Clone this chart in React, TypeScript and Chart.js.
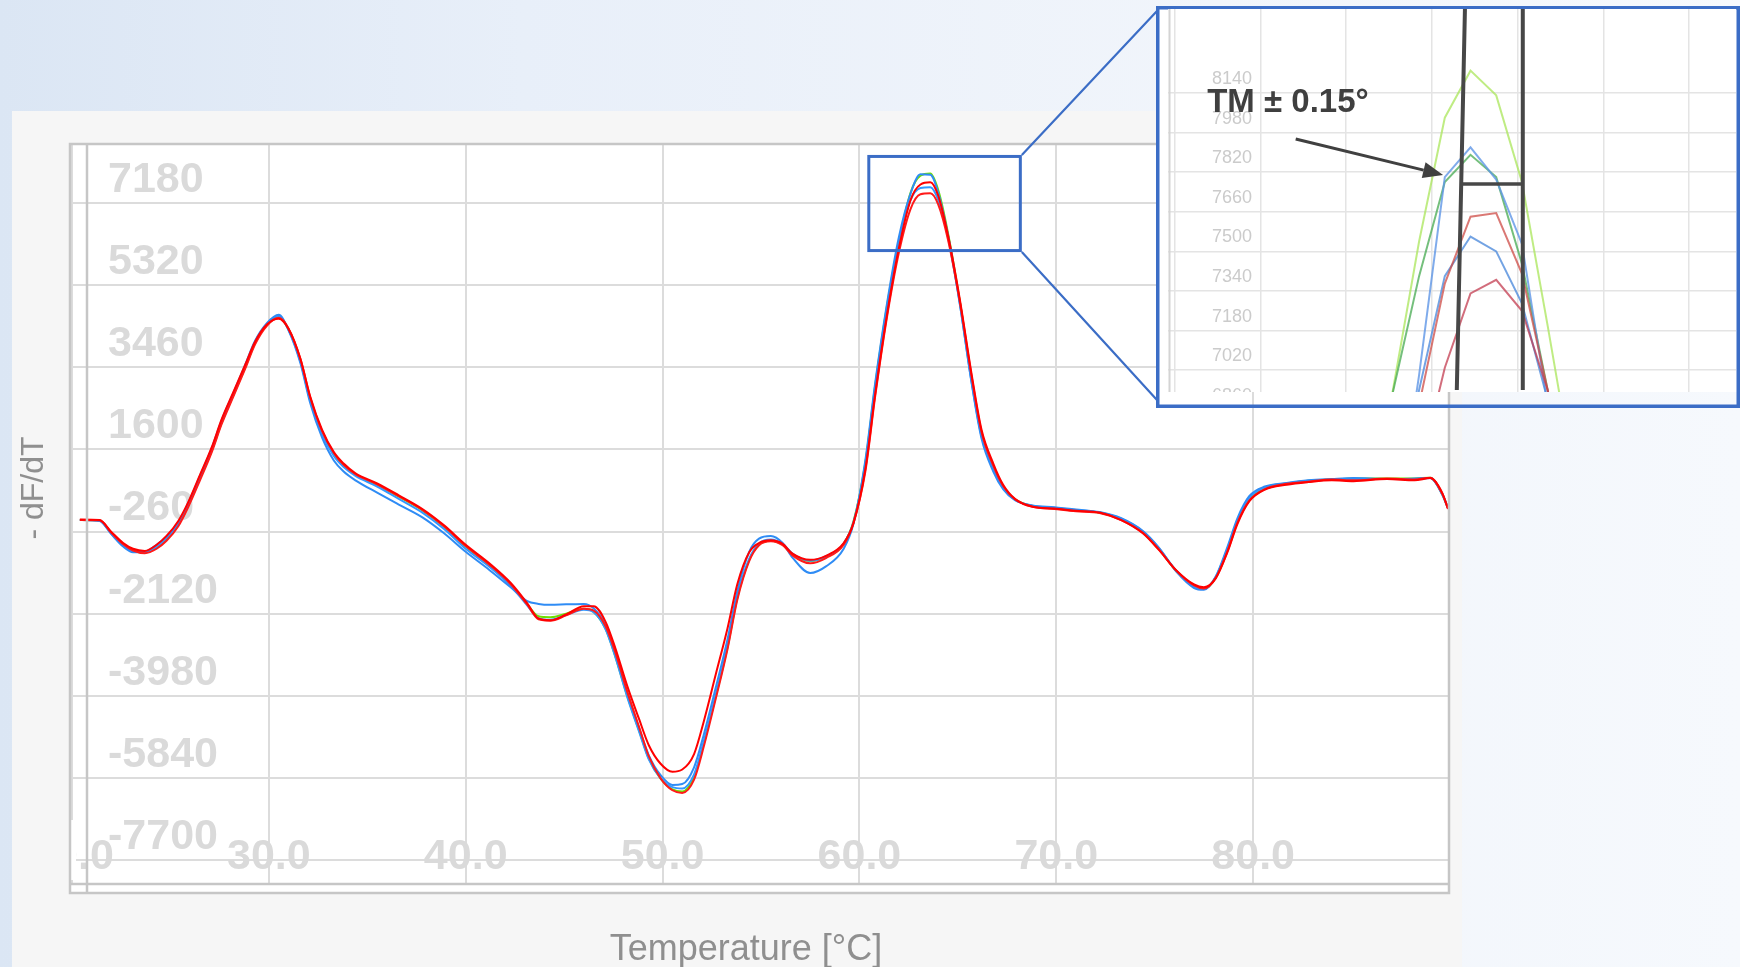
import React, { useEffect, useRef } from "react";
import { Chart, registerables } from "chart.js";

Chart.register(...registerables);

// ---------- main chart data ----------
const temps = [
  20.4, 21.4, 22.0, 22.6, 23.1, 23.7, 24.3, 24.8, 25.4, 25.9,
  26.5, 27.1, 27.6, 28.2, 28.8, 29.3, 29.9, 30.5, 31.0, 31.6,
  32.1, 32.7, 33.3, 33.8, 34.4, 35.5, 36.6, 37.8, 38.9, 40.0,
  41.2, 42.3, 43.1, 43.7, 44.3, 45.1, 46.0, 46.5, 47.1, 47.6,
  48.2, 48.8, 49.3, 49.9, 50.5, 51.0, 51.6, 52.1, 52.7, 53.3,
  53.8, 54.4, 54.9, 55.5, 56.1, 56.6, 57.5, 58.3, 59.2, 59.7,
  60.3, 60.8, 61.4, 62.0, 62.6, 63.1, 63.6, 64.0, 64.5, 65.1,
  65.7, 66.2, 66.8, 67.3, 67.9, 68.8, 69.9, 71.0, 72.2, 73.3,
  74.4, 75.2, 76.1, 77.0, 77.5, 78.1, 78.7, 79.2, 79.8, 80.6,
  81.7, 82.8, 84.0, 85.1, 86.8, 88.2, 89.0, 89.6, 89.9,
];

const greenA = [
  0, -10, -300, -560, -690, -740, -620, -440, -110, 320,
  940, 1570, 2200, 2830, 3460, 4010, 4420, 4600, 4320, 3620,
  2740, 1990, 1490, 1230, 1030, 800, 530, 220, -150, -600,
  -1020, -1470, -1890, -2180, -2200, -2120, -2010, -2080, -2460, -3090,
  -3980, -4760, -5400, -5860, -6100, -6150, -5820, -5050, -4000, -2880,
  -1760, -900, -560, -470, -560, -780, -930, -830, -540, -30,
  1300, 3050, 4850, 6300, 7420, 7800, 7850, 7480, 6500, 4950,
  3180, 1950, 1200, 760, 470, 320, 270, 220, 170, 20,
  -270, -640, -1160, -1500, -1560, -1300, -650, -20, 480, 730,
  820, 890, 920, 940, 940, 940, 960, 590, 270,
];

const blueA = [
  0, -20, -320, -600, -730, -720, -560, -380, -60, 380,
  1000, 1630, 2260, 2880, 3520, 4060, 4460, 4650, 4300, 3560,
  2650, 1870, 1350, 1100, 900, 620, 350, 60, -300, -720,
  -1130, -1530, -1830, -1900, -1920, -1910, -1900, -2000, -2380, -3020,
  -3900, -4700, -5330, -5780, -6000, -5980, -5600, -4850, -3800, -2700,
  -1600, -720, -420, -360, -520, -850, -1200, -1050, -650, -80,
  1350, 3100, 4900, 6400, 7400, 7830, 7820, 7420, 6450, 4900,
  3100, 1850, 1100, 700, 450, 330, 290, 240, 180, 40,
  -250, -620, -1170, -1540, -1580, -1280, -600, 40, 540, 760,
  840, 900, 930, 950, 930, 940, 950, 600, 280,
];

const blueB = [
  0, -15, -310, -580, -710, -730, -600, -420, -90, 340,
  960, 1590, 2220, 2850, 3480, 4030, 4440, 4620, 4310, 3600,
  2710, 1950, 1450, 1200, 1000, 760, 480, 170, -200, -650,
  -1060, -1500, -1920, -2230, -2260, -2150, -2030, -2090, -2470, -3100,
  -4000, -4780, -5420, -5850, -6050, -6080, -5760, -5000, -3960, -2850,
  -1730, -880, -530, -440, -540, -760, -920, -820, -530, -40,
  1250, 2980, 4780, 6250, 7250, 7520, 7540, 7250, 6400, 4900,
  3120, 1900, 1180, 740, 460, 320, 280, 230, 170, 30,
  -260, -630, -1150, -1510, -1560, -1290, -640, 0, 500, 740,
  830, 890, 910, 930, 930, 930, 950, 580, 260,
];

const redA = [
  10, 0, -270, -520, -650, -700, -560, -360, -20, 400,
  1020, 1650, 2280, 2900, 3520, 4040, 4430, 4560, 4330, 3660,
  2800, 2050, 1540, 1280, 1060, 830, 560, 250, -120, -560,
  -980, -1430, -1870, -2230, -2270, -2140, -1950, -1950, -2300, -2900,
  -3750, -4500, -5100, -5520, -5700, -5650, -5300, -4550, -3500, -2450,
  -1450, -730, -520, -460, -540, -760, -900, -810, -520, -70,
  1150, 2850, 4650, 6150, 7250, 7600, 7650, 7350, 6450, 5000,
  3300, 2050, 1280, 800, 480, 300, 260, 210, 170, 0,
  -300, -670, -1140, -1460, -1520, -1320, -720, -90, 420, 690,
  800, 860, 900, 880, 930, 900, 950, 620, 250,
];

const redB = [
  0, -5, -290, -550, -690, -750, -650, -470, -140, 290,
  900, 1540, 2170, 2800, 3430, 3980, 4400, 4580, 4340, 3650,
  2780, 2020, 1520, 1250, 1040, 810, 540, 230, -140, -590,
  -1010, -1460, -1900, -2250, -2280, -2160, -2010, -2050, -2400, -3000,
  -3880, -4680, -5350, -5850, -6120, -6180, -5880, -5120, -4050, -2920,
  -1800, -930, -570, -480, -570, -800, -980, -860, -560, -60,
  1100, 2800, 4600, 6050, 7050, 7380, 7400, 7150, 6350, 4950,
  3250, 2000, 1230, 770, 470, 300, 250, 200, 160, 0,
  -290, -660, -1150, -1480, -1550, -1310, -700, -60, 440, 700,
  820, 870, 920, 900, 940, 920, 960, 600, 260,
];

const xTickValues = [20, 30, 40, 50, 60, 70, 80];
const yTickValues = [7180, 5320, 3460, 1600, -260, -2120, -3980, -5840, -7700];
const xTitle = "Temperature [°C]";
const yTitle = "- dF/dT";

// region of the main chart that is magnified (data units)
const zoomBoxT = [60.4, 68.25];
const zoomBoxV = [6070, 8270];

// ---------- inset (magnified peak) data ----------
const insetTemps = [62.25, 62.55, 62.85, 63.15, 63.45, 63.75, 64.05, 64.35, 64.65];
const insetGreenLight = [6400, 6950, 7540, 8040, 8230, 8130, 7780, 7200, 6600];
const insetBlueA = [5800, 6300, 7000, 7800, 7920, 7790, 7530, 6880, 6300];
const insetGreenDark = [6500, 6940, 7400, 7780, 7890, 7800, 7450, 6940, 6400];
const insetRedA = [5800, 6300, 6880, 7370, 7640, 7655, 7410, 6940, 6400];
const insetBlueB = [5900, 6400, 6940, 7400, 7560, 7500, 7290, 6900, 6400];
const insetRedB = [5500, 6000, 6600, 7030, 7330, 7385, 7260, 6940, 6500];
const insetYTicks = [8140, 7980, 7820, 7660, 7500, 7340, 7180, 7020, 6860];
const insetXTicks = [60, 61, 62, 63, 64, 65, 66];

// TM ± 0.15° annotation (inset data units)
const tmLabel = "TM ± 0.15°";
const tmLeftTop = 63.385;
const tmLeftBottom = 63.29;
const tmRight = 64.06;
const tmBarValue = 7772;
const arrowFrom = [61.41, 7954];
const arrowTo = [63.13, 7809];
const labelAt = [61.32, 8100];

const W = 1740;
const H = 967;
const INSET_L = 1168;
const INSET_T = 9;
const INSET_W = 568;
const INSET_H = 383;

const PANEL = "#f6f6f6";
const GRID = "#dcdcdc";
const FRAME = "#c6c6c6";
const BLUE_BOX = "#3b6dc6";
const tickFont = { family: '"Liberation Sans", Arial, sans-serif', size: 43, weight: "bold" as const };

function pts(xs: number[], ys: number[]) {
  return xs.map((x, i) => ({ x, y: ys[i] }));
}

function zeroPad(s: any) {
  s.paddingTop = 0;
  s.paddingBottom = 0;
  s.paddingLeft = 0;
  s.paddingRight = 0;
}

const mainDecor = {
  id: "mainDecor",
  beforeDraw(chart: any) {
    const ctx = chart.ctx;
    ctx.save();
    ctx.fillStyle = PANEL;
    ctx.fillRect(12, 111, 1450, H - 111);
    ctx.fillStyle = "#ffffff";
    ctx.fillRect(70, 144, 1379, 749);
    ctx.restore();
  },
  afterDraw(chart: any) {
    const ctx = chart.ctx;
    const xs = chart.scales.x;
    const ys = chart.scales.y;
    ctx.save();
    // hide tick label overflow at the left edge of the frame
    ctx.fillStyle = PANEL;
    ctx.fillRect(12, 800, 57, 100);
    ctx.fillStyle = "#ffffff";
    ctx.fillRect(71, 820, 5, 60);
    // frame
    ctx.strokeStyle = FRAME;
    ctx.lineWidth = 2.5;
    ctx.strokeRect(70, 144, 1379, 749);
    ctx.beginPath();
    ctx.moveTo(87, 144);
    ctx.lineTo(87, 893);
    ctx.moveTo(70, 884);
    ctx.lineTo(1449, 884);
    ctx.stroke();
    // axis titles
    ctx.fillStyle = "#8f8f8f";
    ctx.font = '36px "Liberation Sans", Arial, sans-serif';
    ctx.textAlign = "center";
    ctx.textBaseline = "middle";
    ctx.fillText(xTitle, 746, 950);
    ctx.save();
    ctx.translate(34, 488);
    ctx.rotate(-Math.PI / 2);
    ctx.font = '32px "Liberation Sans", Arial, sans-serif';
    ctx.fillText(yTitle, 0, 0);
    ctx.restore();
    // area behind inset
    ctx.fillStyle = "#ffffff";
    ctx.fillRect(1158, 9, 580, 383);
    // zoom box
    const bx0 = xs.getPixelForValue(zoomBoxT[0]);
    const bx1 = xs.getPixelForValue(zoomBoxT[1]);
    const by0 = ys.getPixelForValue(zoomBoxV[1]);
    const by1 = ys.getPixelForValue(zoomBoxV[0]);
    ctx.strokeStyle = BLUE_BOX;
    ctx.lineWidth = 3;
    ctx.strokeRect(bx0 + 1.5, by0 + 1.5, bx1 - bx0 - 3, by1 - by0 - 3);
    ctx.lineWidth = 2.2;
    ctx.beginPath();
    ctx.moveTo(bx1, by0);
    ctx.lineTo(1157, 11);
    ctx.moveTo(bx1, by1);
    ctx.lineTo(1157, 400);
    ctx.stroke();
    ctx.lineWidth = 3.5;
    ctx.strokeRect(1157.75, 7.75, 1738.25 - 1157.75, 406.25 - 7.75);
    ctx.restore();
  },
};

const insetDecor = {
  id: "insetDecor",
  beforeDraw(chart: any) {
    const ctx = chart.ctx;
    ctx.save();
    ctx.fillStyle = "#ffffff";
    ctx.fillRect(0, 0, chart.width, chart.height);
    ctx.restore();
  },
  afterDraw(chart: any) {
    const ctx = chart.ctx;
    const xs = chart.scales.x;
    const ys = chart.scales.y;
    ctx.save();
    // left frame line of inset plot
    ctx.strokeStyle = "#d4d4d4";
    ctx.lineWidth = 2;
    ctx.beginPath();
    ctx.moveTo(1.5, 0);
    ctx.lineTo(1.5, chart.height);
    ctx.stroke();
    // TM lines
    ctx.strokeStyle = "#474747";
    ctx.lineWidth = 4;
    const lt = xs.getPixelForValue(tmLeftTop);
    const lb = xs.getPixelForValue(tmLeftBottom);
    const r = xs.getPixelForValue(tmRight);
    const barY = ys.getPixelForValue(tmBarValue);
    ctx.beginPath();
    ctx.moveTo(lt, 0);
    ctx.lineTo(lb, chart.height - 2);
    ctx.moveTo(r, 0);
    ctx.lineTo(r, chart.height - 2);
    ctx.stroke();
    ctx.lineWidth = 3.5;
    ctx.beginPath();
    ctx.moveTo(lt - 4, barY);
    ctx.lineTo(r, barY);
    ctx.stroke();
    // arrow
    const ax0 = xs.getPixelForValue(arrowFrom[0]);
    const ay0 = ys.getPixelForValue(arrowFrom[1]);
    const ax1 = xs.getPixelForValue(arrowTo[0]);
    const ay1 = ys.getPixelForValue(arrowTo[1]);
    const ang = Math.atan2(ay1 - ay0, ax1 - ax0);
    const headLen = 20;
    const headW = 8;
    const bx = ax1 - headLen * Math.cos(ang);
    const by = ay1 - headLen * Math.sin(ang);
    ctx.strokeStyle = "#404040";
    ctx.fillStyle = "#404040";
    ctx.lineWidth = 3;
    ctx.beginPath();
    ctx.moveTo(ax0, ay0);
    ctx.lineTo(bx, by);
    ctx.stroke();
    ctx.beginPath();
    ctx.moveTo(ax1, ay1);
    ctx.lineTo(bx + headW * Math.sin(ang), by - headW * Math.cos(ang));
    ctx.lineTo(bx - headW * Math.sin(ang), by + headW * Math.cos(ang));
    ctx.closePath();
    ctx.fill();
    // label
    ctx.font = 'bold 33px "Liberation Sans", Arial, sans-serif';
    ctx.textAlign = "center";
    ctx.textBaseline = "middle";
    ctx.fillStyle = "#3f3f3f";
    ctx.fillText(tmLabel, xs.getPixelForValue(labelAt[0]), ys.getPixelForValue(labelAt[1]));
    ctx.restore();
  },
};

export default function App() {
  const mainRef = useRef<HTMLCanvasElement>(null);
  const insetRef = useRef<HTMLCanvasElement>(null);

  useEffect(() => {
    const mainSeries = [
      { label: "Red 1", values: redA, color: "#ff0000" },
      { label: "Red 2", values: redB, color: "#ff1a1a" },
      { label: "Blue 1", values: blueA, color: "#2f8cf5" },
      { label: "Blue 2", values: blueB, color: "#3399ff" },
      { label: "Green", values: greenA, color: "#6ee000" },
    ];
    const main = new Chart(mainRef.current as HTMLCanvasElement, {
      type: "line",
      data: {
        datasets: mainSeries.map((s) => ({
          label: s.label,
          data: pts(temps, s.values),
          borderColor: s.color,
          backgroundColor: s.color,
          borderWidth: 2,
          pointRadius: 0,
          fill: false,
          cubicInterpolationMode: "monotone" as const,
        })),
      },
      options: {
        responsive: false,
        animation: false,
        layout: { padding: { left: 72, top: 144, right: 290, bottom: 83 } },
        plugins: { legend: { display: false }, tooltip: { enabled: false } },
        scales: {
          x: {
            type: "linear",
            min: 20,
            max: 90,
            afterFit: (s: any) => {
              s.height = 0;
              zeroPad(s);
            },
            afterBuildTicks: (s: any) => {
              s.ticks = xTickValues.map((v) => ({ value: v }));
            },
            grid: { color: GRID, lineWidth: 2, drawTicks: false },
            border: { display: false },
            ticks: {
              mirror: true,
              padding: 1,
              autoSkip: false,
              maxRotation: 0,
              font: tickFont,
              color: "#dadada",
              callback: (v: any) => Number(v).toFixed(1),
            },
          },
          y: {
            type: "linear",
            min: -8244,
            max: 8518,
            afterFit: (s: any) => {
              s.width = 0;
              zeroPad(s);
            },
            afterBuildTicks: (s: any) => {
              s.ticks = yTickValues.map((v) => ({ value: v }));
            },
            grid: { color: GRID, lineWidth: 2, drawTicks: false },
            border: { display: false },
            ticks: {
              mirror: true,
              padding: 36,
              labelOffset: -23,
              autoSkip: false,
              font: tickFont,
              color: "#dadada",
              callback: (v: any) => String(v),
            },
          },
        },
      },
      plugins: [mainDecor],
    });

    const insetSeries = [
      { label: "Red 2", values: insetRedB, color: "rgba(195, 60, 80, 0.75)" },
      { label: "Red 1", values: insetRedA, color: "rgba(205, 75, 70, 0.75)" },
      { label: "Blue 2", values: insetBlueB, color: "rgba(80, 140, 220, 0.8)" },
      { label: "Blue 1", values: insetBlueA, color: "rgba(95, 150, 230, 0.8)" },
      { label: "Green 2", values: insetGreenDark, color: "rgba(70, 170, 80, 0.75)" },
      { label: "Green 1", values: insetGreenLight, color: "rgba(170, 230, 90, 0.75)" },
    ];
    const inset = new Chart(insetRef.current as HTMLCanvasElement, {
      type: "line",
      data: {
        datasets: insetSeries.map((s) => ({
          label: s.label,
          data: pts(insetTemps, s.values),
          borderColor: s.color,
          backgroundColor: s.color,
          borderWidth: 2,
          pointRadius: 0,
          fill: false,
          tension: 0,
        })),
      },
      options: {
        responsive: false,
        animation: false,
        layout: { padding: 0 },
        plugins: { legend: { display: false }, tooltip: { enabled: false } },
        scales: {
          x: {
            type: "linear",
            min: 59.92,
            max: 66.548,
            afterFit: (s: any) => {
              s.height = 0;
              zeroPad(s);
            },
            afterBuildTicks: (s: any) => {
              s.ticks = insetXTicks.map((v) => ({ value: v }));
            },
            grid: { color: "#e4e4e4", lineWidth: 1.5, drawTicks: false },
            border: { display: false },
            ticks: { display: false },
          },
          y: {
            type: "linear",
            min: 6932,
            max: 8479,
            afterFit: (s: any) => {
              s.width = 0;
              zeroPad(s);
            },
            afterBuildTicks: (s: any) => {
              s.ticks = insetYTicks.map((v) => ({ value: v }));
            },
            grid: { color: "#e4e4e4", lineWidth: 1.5, drawTicks: false },
            border: { display: false },
            ticks: {
              mirror: true,
              padding: 44,
              labelOffset: -14,
              autoSkip: false,
              font: { family: '"Liberation Sans Narrow", "Liberation Sans", Arial, sans-serif', size: 18 },
              color: "#cbcbcb",
              callback: (v: any) => String(v),
            },
          },
        },
      },
      plugins: [insetDecor],
    });

    return () => {
      main.destroy();
      inset.destroy();
    };
  }, []);

  return (
    <div
      style={{
        position: "fixed",
        left: 0,
        top: 0,
        width: W,
        height: H,
        overflow: "hidden",
        background: "linear-gradient(90deg, #dbe6f4 0%, #e8eff9 30%, #f1f5fb 70%, #f6f9fd 100%)",
      }}
    >
      <canvas
        ref={mainRef}
        width={W}
        height={H}
        style={{ position: "absolute", left: 0, top: 0, width: W, height: H }}
      />
      <canvas
        ref={insetRef}
        width={INSET_W}
        height={INSET_H}
        style={{ position: "absolute", left: INSET_L, top: INSET_T, width: INSET_W, height: INSET_H }}
      />
    </div>
  );
}
